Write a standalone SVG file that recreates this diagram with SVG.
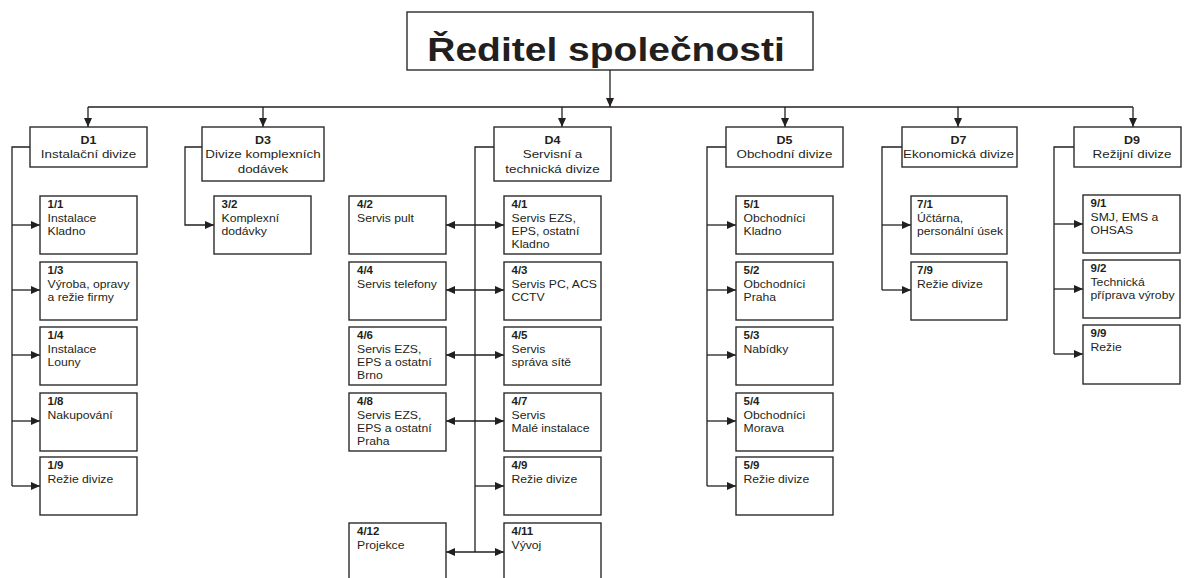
<svg xmlns="http://www.w3.org/2000/svg" width="1184" height="578" viewBox="0 0 1184 578">
<defs>
<style>
.box{fill:#fff;stroke:#2b2b2b;stroke-width:1.4}
.ln{fill:none;stroke:#231f20;stroke-width:1.3}
.ar{marker-end:url(#ah)}
.bi{marker-start:url(#ah);marker-end:url(#ah)}
text{font-family:"Liberation Sans",Arial,sans-serif;fill:#231f20}
.ti{font-size:39px;font-weight:bold}
.h{font-size:13.4px;text-anchor:middle}
.hb{font-size:12.5px;font-weight:bold}
.c{font-size:12.2px}
.lb{font-size:11.5px;font-weight:bold}
</style>
<marker id="ah" markerUnits="userSpaceOnUse" markerWidth="10" markerHeight="9" refX="9" refY="4" orient="auto-start-reverse">
<path d="M0,0 L9,4 L0,8 z" fill="#231f20"/>
</marker>
</defs>
<rect width="1184" height="578" fill="#fff"/>

<g id="connectors">
<line class="ln ar" x1="610" y1="70" x2="610" y2="107"/>
<line class="ln" x1="88" y1="107" x2="1133" y2="107"/>
<line class="ln ar" x1="88" y1="107" x2="88" y2="127"/>
<line class="ln ar" x1="263" y1="107" x2="263" y2="127"/>
<line class="ln ar" x1="562" y1="107" x2="562" y2="127"/>
<line class="ln ar" x1="785" y1="107" x2="785" y2="127"/>
<line class="ln ar" x1="958" y1="107" x2="958" y2="127"/>
<line class="ln ar" x1="1133" y1="107" x2="1133" y2="127"/>
<!-- D1 -->
<path class="ln" d="M30,147 H12 V486"/>
<line class="ln ar" x1="12" y1="225" x2="40" y2="225"/>
<line class="ln ar" x1="12" y1="290" x2="40" y2="290"/>
<line class="ln ar" x1="12" y1="355" x2="40" y2="355"/>
<line class="ln ar" x1="12" y1="421" x2="40" y2="421"/>
<line class="ln ar" x1="12" y1="486" x2="40" y2="486"/>
<!-- D3 -->
<path class="ln ar" d="M202,147 H185 V225 H214"/>
<!-- D4 -->
<path class="ln" d="M494,147 H475 V552"/>
<line class="ln bi" x1="446" y1="225" x2="504" y2="225"/>
<line class="ln bi" x1="446" y1="290" x2="504" y2="290"/>
<line class="ln bi" x1="446" y1="355" x2="504" y2="355"/>
<line class="ln bi" x1="446" y1="421" x2="504" y2="421"/>
<line class="ln ar" x1="475" y1="486" x2="504" y2="486"/>
<line class="ln bi" x1="446" y1="552" x2="504" y2="552"/>
<!-- D5 -->
<path class="ln" d="M726,147 H707 V486"/>
<line class="ln ar" x1="707" y1="225" x2="736" y2="225"/>
<line class="ln ar" x1="707" y1="290" x2="736" y2="290"/>
<line class="ln ar" x1="707" y1="355" x2="736" y2="355"/>
<line class="ln ar" x1="707" y1="421" x2="736" y2="421"/>
<line class="ln ar" x1="707" y1="486" x2="736" y2="486"/>
<!-- D7 -->
<path class="ln" d="M902,147 H882 V290"/>
<line class="ln ar" x1="882" y1="225" x2="911" y2="225"/>
<line class="ln ar" x1="882" y1="290" x2="911" y2="290"/>
<!-- D9 -->
<path class="ln" d="M1074,147 H1054 V354"/>
<line class="ln ar" x1="1054" y1="224" x2="1083" y2="224"/>
<line class="ln ar" x1="1054" y1="289" x2="1083" y2="289"/>
<line class="ln ar" x1="1054" y1="354" x2="1083" y2="354"/>
</g>

<g id="root">
<rect class="box" x="407" y="12" width="406" height="58" stroke-width="1.6"/>
<text class="ti" text-anchor="middle" transform="translate(606,61) scale(1,0.86)" x="0" y="0">Ředitel společnosti</text>
</g>

<g id="D1"><rect class="box" x="30" y="127" width="117" height="40"/>
<text class="h" transform="translate(88.5,127) scale(1,0.88)"><tspan class="hb" x="0" y="19">D1</tspan><tspan x="0" dy="16.7">Instalační divize</tspan></text></g>
<g id="D3"><rect class="box" x="202" y="127" width="122" height="54"/>
<text class="h" transform="translate(263,127) scale(1,0.88)"><tspan class="hb" x="0" y="19">D3</tspan><tspan x="0" dy="16.7">Divize komplexních</tspan><tspan x="0" dy="16.7">dodávek</tspan></text></g>
<g id="D4"><rect class="box" x="494" y="127" width="117" height="54"/>
<text class="h" transform="translate(552.5,127) scale(1,0.88)"><tspan class="hb" x="0" y="19">D4</tspan><tspan x="0" dy="16.7">Servisní a</tspan><tspan x="0" dy="16.7">technická divize</tspan></text></g>
<g id="D5"><rect class="box" x="726" y="127" width="117" height="40"/>
<text class="h" transform="translate(784.5,127) scale(1,0.88)"><tspan class="hb" x="0" y="19">D5</tspan><tspan x="0" dy="16.7">Obchodní divize</tspan></text></g>
<g id="D7"><rect class="box" x="902" y="127" width="115" height="40"/>
<text class="h" transform="translate(958.5,127) scale(1,0.88)"><tspan class="hb" x="0" y="19">D7</tspan><tspan x="0" dy="16.7">Ekonomická divize</tspan></text></g>
<g id="D9"><rect class="box" x="1074" y="127" width="107" height="40"/>
<text class="h" transform="translate(1132,127) scale(1,0.88)"><tspan class="hb" x="0" y="19">D9</tspan><tspan x="0" dy="16.7">Režijní divize</tspan></text></g>

<!-- D1 children -->
<g id="n1_1"><rect class="box" x="40" y="196" width="97" height="58"/>
<text class="c" transform="translate(47.5,196) scale(1,0.88)"><tspan class="lb" x="0" y="14">1/1</tspan><tspan x="0" dy="15.2">Instalace</tspan><tspan x="0" dy="15.2">Kladno</tspan></text></g>
<g id="n1_3"><rect class="box" x="40" y="262" width="97" height="58"/>
<text class="c" transform="translate(47.5,262) scale(1,0.88)"><tspan class="lb" x="0" y="14">1/3</tspan><tspan x="0" dy="15.2">Výroba, opravy</tspan><tspan x="0" dy="15.2">a režie firmy</tspan></text></g>
<g id="n1_4"><rect class="box" x="40" y="327" width="97" height="58"/>
<text class="c" transform="translate(47.5,327) scale(1,0.88)"><tspan class="lb" x="0" y="14">1/4</tspan><tspan x="0" dy="15.2">Instalace</tspan><tspan x="0" dy="15.2">Louny</tspan></text></g>
<g id="n1_8"><rect class="box" x="40" y="393" width="97" height="58"/>
<text class="c" transform="translate(47.5,393) scale(1,0.88)"><tspan class="lb" x="0" y="14">1/8</tspan><tspan x="0" dy="15.2">Nakupování</tspan></text></g>
<g id="n1_9"><rect class="box" x="40" y="457" width="97" height="58"/>
<text class="c" transform="translate(47.5,457) scale(1,0.88)"><tspan class="lb" x="0" y="14">1/9</tspan><tspan x="0" dy="15.2">Režie divize</tspan></text></g>

<!-- D3 children -->
<g id="n3_2"><rect class="box" x="214" y="196" width="97" height="58"/>
<text class="c" transform="translate(221.5,196) scale(1,0.88)"><tspan class="lb" x="0" y="14">3/2</tspan><tspan x="0" dy="15.2">Komplexní</tspan><tspan x="0" dy="15.2">dodávky</tspan></text></g>

<!-- D4 right -->
<g id="n4_1"><rect class="box" x="504" y="196" width="97" height="58"/>
<text class="c" transform="translate(511.5,196) scale(1,0.88)"><tspan class="lb" x="0" y="14">4/1</tspan><tspan x="0" dy="15.2">Servis EZS,</tspan><tspan x="0" dy="15.2">EPS, ostatní</tspan><tspan x="0" dy="15.2">Kladno</tspan></text></g>
<g id="n4_3"><rect class="box" x="504" y="262" width="97" height="58"/>
<text class="c" transform="translate(511.5,262) scale(1,0.88)"><tspan class="lb" x="0" y="14">4/3</tspan><tspan x="0" dy="15.2">Servis PC, ACS</tspan><tspan x="0" dy="15.2">CCTV</tspan></text></g>
<g id="n4_5"><rect class="box" x="504" y="327" width="97" height="58"/>
<text class="c" transform="translate(511.5,327) scale(1,0.88)"><tspan class="lb" x="0" y="14">4/5</tspan><tspan x="0" dy="15.2">Servis</tspan><tspan x="0" dy="15.2">správa sítě</tspan></text></g>
<g id="n4_7"><rect class="box" x="504" y="393" width="97" height="58"/>
<text class="c" transform="translate(511.5,393) scale(1,0.88)"><tspan class="lb" x="0" y="14">4/7</tspan><tspan x="0" dy="15.2">Servis</tspan><tspan x="0" dy="15.2">Malé instalace</tspan></text></g>
<g id="n4_9"><rect class="box" x="504" y="457" width="97" height="58"/>
<text class="c" transform="translate(511.5,457) scale(1,0.88)"><tspan class="lb" x="0" y="14">4/9</tspan><tspan x="0" dy="15.2">Režie divize</tspan></text></g>
<g id="n4_11"><rect class="box" x="504" y="523" width="97" height="62"/>
<text class="c" transform="translate(511.5,523) scale(1,0.88)"><tspan class="lb" x="0" y="14">4/11</tspan><tspan x="0" dy="15.2">Vývoj</tspan></text></g>

<!-- D4 left -->
<g id="n4_2"><rect class="box" x="349" y="196" width="97" height="58"/>
<text class="c" transform="translate(357,196) scale(1,0.88)"><tspan class="lb" x="0" y="14">4/2</tspan><tspan x="0" dy="15.2">Servis pult</tspan></text></g>
<g id="n4_4"><rect class="box" x="349" y="262" width="97" height="58"/>
<text class="c" transform="translate(357,262) scale(1,0.88)"><tspan class="lb" x="0" y="14">4/4</tspan><tspan x="0" dy="15.2">Servis telefony</tspan></text></g>
<g id="n4_6"><rect class="box" x="349" y="327" width="97" height="58"/>
<text class="c" transform="translate(357,327) scale(1,0.88)"><tspan class="lb" x="0" y="14">4/6</tspan><tspan x="0" dy="15.2">Servis EZS,</tspan><tspan x="0" dy="15.2">EPS a ostatní</tspan><tspan x="0" dy="15.2">Brno</tspan></text></g>
<g id="n4_8"><rect class="box" x="349" y="393" width="97" height="58"/>
<text class="c" transform="translate(357,393) scale(1,0.88)"><tspan class="lb" x="0" y="14">4/8</tspan><tspan x="0" dy="15.2">Servis EZS,</tspan><tspan x="0" dy="15.2">EPS a ostatní</tspan><tspan x="0" dy="15.2">Praha</tspan></text></g>
<g id="n4_12"><rect class="box" x="349" y="523" width="97" height="62"/>
<text class="c" transform="translate(357,523) scale(1,0.88)"><tspan class="lb" x="0" y="14">4/12</tspan><tspan x="0" dy="15.2">Projekce</tspan></text></g>

<!-- D5 children -->
<g id="n5_1"><rect class="box" x="736" y="196" width="97" height="58"/>
<text class="c" transform="translate(743.5,196) scale(1,0.88)"><tspan class="lb" x="0" y="14">5/1</tspan><tspan x="0" dy="15.2">Obchodníci</tspan><tspan x="0" dy="15.2">Kladno</tspan></text></g>
<g id="n5_2"><rect class="box" x="736" y="262" width="97" height="58"/>
<text class="c" transform="translate(743.5,262) scale(1,0.88)"><tspan class="lb" x="0" y="14">5/2</tspan><tspan x="0" dy="15.2">Obchodníci</tspan><tspan x="0" dy="15.2">Praha</tspan></text></g>
<g id="n5_3"><rect class="box" x="736" y="327" width="97" height="58"/>
<text class="c" transform="translate(743.5,327) scale(1,0.88)"><tspan class="lb" x="0" y="14">5/3</tspan><tspan x="0" dy="15.2">Nabídky</tspan></text></g>
<g id="n5_4"><rect class="box" x="736" y="393" width="97" height="58"/>
<text class="c" transform="translate(743.5,393) scale(1,0.88)"><tspan class="lb" x="0" y="14">5/4</tspan><tspan x="0" dy="15.2">Obchodníci</tspan><tspan x="0" dy="15.2">Morava</tspan></text></g>
<g id="n5_9"><rect class="box" x="736" y="457" width="97" height="58"/>
<text class="c" transform="translate(743.5,457) scale(1,0.88)"><tspan class="lb" x="0" y="14">5/9</tspan><tspan x="0" dy="15.2">Režie divize</tspan></text></g>

<!-- D7 children -->
<g id="n7_1"><rect class="box" x="911" y="196" width="96" height="58"/>
<text class="c" transform="translate(917,196) scale(1,0.88)"><tspan class="lb" x="0" y="14">7/1</tspan><tspan x="0" dy="15.2">Účtárna,</tspan><tspan x="0" dy="15.2">personální úsek</tspan></text></g>
<g id="n7_9"><rect class="box" x="911" y="262" width="96" height="58"/>
<text class="c" transform="translate(917,262) scale(1,0.88)"><tspan class="lb" x="0" y="14">7/9</tspan><tspan x="0" dy="15.2">Režie divize</tspan></text></g>

<!-- D9 children -->
<g id="n9_1"><rect class="box" x="1083" y="195" width="97" height="58"/>
<text class="c" transform="translate(1090.5,195) scale(1,0.88)"><tspan class="lb" x="0" y="14">9/1</tspan><tspan x="0" dy="15.2">SMJ, EMS a</tspan><tspan x="0" dy="15.2">OHSAS</tspan></text></g>
<g id="n9_2"><rect class="box" x="1083" y="260" width="97" height="58"/>
<text class="c" transform="translate(1090.5,260) scale(1,0.88)"><tspan class="lb" x="0" y="14">9/2</tspan><tspan x="0" dy="15.2">Technická</tspan><tspan x="0" dy="15.2">příprava výroby</tspan></text></g>
<g id="n9_9"><rect class="box" x="1083" y="325" width="97" height="59"/>
<text class="c" transform="translate(1090.5,325) scale(1,0.88)"><tspan class="lb" x="0" y="14">9/9</tspan><tspan x="0" dy="15.2">Režie</tspan></text></g>
</svg>
